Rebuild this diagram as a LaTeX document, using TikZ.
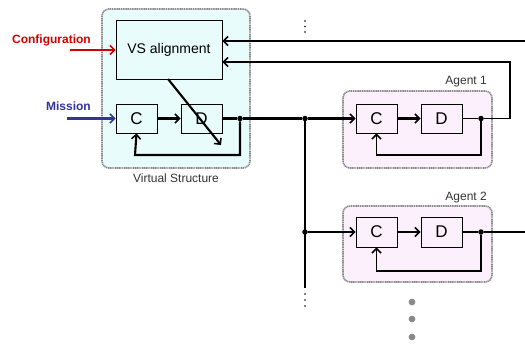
\documentclass[tikz,border=0pt]{standalone}
\usepackage{fontspec}
\setmainfont{Liberation Sans}
\usetikzlibrary{arrows.meta}
\definecolor{vsfill}{HTML}{E8FCFC}
\definecolor{agfill}{HTML}{FCF0FC}
\definecolor{cfgred}{HTML}{D40000}
\definecolor{misblue}{HTML}{33339A}
\definecolor{dashgray}{HTML}{8C8C8C}
\definecolor{dotgray}{HTML}{8A8A8A}
\definecolor{labgray}{HTML}{333333}
\begin{document}
\begin{tikzpicture}[x=1pt,y=-1pt,
  blk/.style={draw=black,line width=0.9pt,minimum width=41pt,minimum height=29pt,inner sep=0pt,font=\fontsize{17}{17}\selectfont},
  group/.style={draw=dashgray,dashed,dash pattern=on 1.2pt off 0.6pt,line width=1.6pt,rounded corners=7pt},
  thk/.style={line width=2.1pt},
  thn/.style={line width=1.3pt},
  arr/.style={-{Straight Barb[length=4.5pt,width=9pt,line width=1.5pt]}},
  jdot/.style={circle,fill=black,inner sep=0pt,minimum size=5.5pt},
  lab/.style={font=\fontsize{12}{12}\selectfont,text=labgray,inner sep=0pt}]
\useasboundingbox (0,0) rectangle (525,343);
% group containers
\draw[group,fill=vsfill] (102,9) rectangle (250,168);
\draw[group,fill=agfill] (343,91) rectangle (492,168);
\draw[group,fill=agfill] (343,206) rectangle (492,282);
\node[lab] (vslab) at (176,178) {Virtual Structure};
\node[lab,anchor=east] (a1lab) at (487,82) {Agent 1};
\node[lab,anchor=east] (a2lab) at (487,198) {Agent 2};
% blocks
\node[blk,fill=vsfill,minimum width=106pt,minimum height=59pt,font=\fontsize{14}{14}\selectfont] (vs) at (169,49.5) {VS alignment};
\node[blk,fill=vsfill] (vsC) at (136.5,118.5) {C};
\node[blk,fill=vsfill] (vsD) at (201.5,118.5) {D};
\node[blk,fill=agfill] (a1C) at (376.5,118.5) {C};
\node[blk,fill=agfill] (a1D) at (441.5,118.5) {D};
\node[blk,fill=agfill,minimum height=30pt] (a2C) at (376.5,232) {C};
\node[blk,fill=agfill,minimum height=30pt] (a2D) at (441.5,232) {D};
% inputs
\node[font=\bfseries\fontsize{12}{12}\selectfont,text=cfgred,anchor=east,inner sep=0pt] (cfg) at (91,40) {Configuration};
\node[font=\bfseries\fontsize{12}{12}\selectfont,text=misblue,anchor=east,inner sep=0pt] (mis) at (91,106) {Mission};
\coordinate (cfgS) at (70,50);
\coordinate (misS) at (67,118.5);
\draw[thk,arr,draw=cfgred] (cfgS) -- (cfgS -| vs.west);
\draw[thk,arr,draw=misblue] (misS) -- (vsC.west);
% junctions
\node[jdot] (jvs) at (240,118.5) {};
\node[jdot] (jb1) at (305,118.5) {};
\node[jdot] (jb2) at (305,232) {};
\node[jdot] (ja1) at (481,118.5) {};
\node[jdot] (ja2) at (481,232) {};
\coordinate (busEnd) at (305,288);
\coordinate (topR) at (525,41);
\coordinate (turnT) at (510,62);
\coordinate (turnB) at (510,118.5);
\coordinate (a2R) at (525,232);
\coordinate (diagS) at (168,79);
\coordinate (diagE) at (221,145);
% virtual structure internals
\draw[thk,arr] (vsC) -- (vsD);
\draw[thk] (vsD) -- (jvs) -- (jb1);
\draw[thk,arr] (jvs) |- (135,155) -- (vsC.south);
\draw[thk,arr] (diagS) -- (diagE);
\draw[thk,arr] (topR) -- (topR -| vs.east);
\draw[line width=1.6pt,arr] (ja1) -- (turnB) -- (turnT) -- (turnT -| vs.east);
% bus
\draw[thk,arr] (jb1) -- (a1C);
\draw[thk] (jb1) -- (busEnd);
\draw[thk,arr] (jb2) -- (a2C);
% agent 1
\draw[thk,arr] (a1C) -- (a1D);
\draw[thn] (a1D) -- (ja1);
\draw[thn,arr] (ja1) |- (376.5,155) -- (a1C.south);
% agent 2
\draw[thk,arr] (a2C) -- (a2D);
\draw[thn] (a2D) -- (ja2) -- (a2R);
\draw[thn,arr] (ja2) |- (376.5,271) -- (a2C.south);
% ellipsis dots
\foreach \yy in {21,26.5,32} \fill (305,\yy) circle (0.9pt);
\foreach \yy in {294,300,306} \fill (305,\yy) circle (0.9pt);
\foreach \yy in {302,319,337} \fill[dotgray] (412,\yy) circle (3.4pt);
\end{tikzpicture}
\end{document}
